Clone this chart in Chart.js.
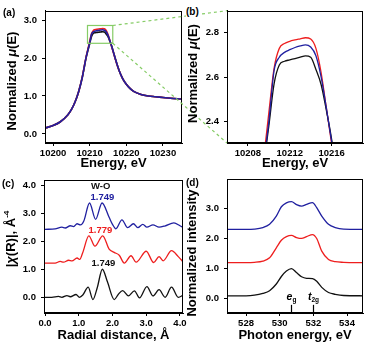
<!DOCTYPE html>
<html lang="en">
<head>
<meta charset="UTF-8">
<title>XANES / EXAFS / O K-edge</title>
<script src="https://cdn.jsdelivr.net/npm/chart.js"></script>
<style>
  body { margin: 0; background: #fff; }
  #wrap { position: relative; width: 367px; height: 347px; overflow: hidden; }
  #wrap canvas { position: absolute; left: 0; top: 0; }
  .lbl { position: absolute; font: bold 10px "Liberation Sans", Arial, sans-serif; color: #000; line-height: 12px; }
</style>
</head>
<body>
<div id="wrap">
  <canvas id="chartA" width="367" height="347"></canvas>
  <canvas id="chartC" width="367" height="347"></canvas>
  <canvas id="chartD" width="367" height="347"></canvas>
  <canvas id="chartB" width="367" height="347"></canvas>
  <div class="lbl" style="left:3px;top:7px">(a)</div>
  <div class="lbl" style="left:186px;top:6px;background:#fff">(b)</div>
  <div class="lbl" style="left:2px;top:178px">(c)</div>
  <div class="lbl" style="left:186px;top:177px">(d)</div>
</div>
<script>
// W L3-edge XANES, panels (a) and (b)
const energyXanes = [10198, 10200, 10202, 10204, 10205, 10206, 10207, 10208, 10208.5, 10209, 10209.5, 10210, 10210.5, 10211, 10211.5, 10212, 10212.5, 10213, 10213.5, 10214, 10214.5, 10215, 10215.5, 10216, 10216.5, 10217, 10218, 10219, 10220, 10221, 10222, 10224, 10226, 10228, 10230, 10232, 10235];
const muBlack = [0.16, 0.22, 0.32, 0.50, 0.64, 0.84, 1.12, 1.50, 1.75, 2.00, 2.20, 2.38, 2.57, 2.655, 2.672, 2.678, 2.684, 2.690, 2.696, 2.690, 2.635, 2.566, 2.45, 2.32, 2.15, 1.98, 1.68, 1.46, 1.31, 1.20, 1.12, 1.04, 1.00, 0.98, 0.96, 0.94, 0.92];
const muRed = [0.16, 0.22, 0.32, 0.50, 0.64, 0.84, 1.12, 1.51, 1.77, 2.02, 2.23, 2.44, 2.64, 2.73, 2.752, 2.762, 2.768, 2.773, 2.778, 2.772, 2.73, 2.62, 2.46, 2.30, 2.14, 1.97, 1.68, 1.46, 1.31, 1.20, 1.12, 1.04, 1.00, 0.98, 0.96, 0.94, 0.92];
const muBlue = [0.16, 0.22, 0.32, 0.50, 0.64, 0.84, 1.12, 1.50, 1.76, 2.01, 2.21, 2.40, 2.63, 2.69, 2.712, 2.724, 2.734, 2.741, 2.746, 2.736, 2.697, 2.60, 2.46, 2.31, 2.15, 1.98, 1.68, 1.46, 1.31, 1.20, 1.12, 1.04, 1.00, 0.98, 0.96, 0.94, 0.92];
const zoomBoxE = [10209.4, 10216.3];
const zoomBoxMu = [2.39, 2.86];

// FT-EXAFS, panel (c)
const rBlack = [0.0, 0.2, 0.4, 0.5, 0.65, 0.75, 0.92, 1.02, 1.12, 1.28, 1.42, 1.55, 1.70, 1.85, 2.05, 2.17, 2.30, 2.47, 2.65, 2.80, 3.02, 3.20, 3.38, 3.56, 3.75, 3.95, 4.1];
const chiBlack = [0.0, 0.0, 0.03, 0.0, 0.06, 0.02, 0.10, 0.0, 0.08, 0.36, -0.08, 0.35, 1.0, 0.55, -0.08, 0.10, 0.24, 0.05, 0.23, -0.02, 0.38, 0.05, 0.27, 0.0, 0.36, 0.0, 0.08];
const rRed = [0.0, 0.3, 0.45, 0.55, 0.7, 0.8, 0.95, 1.03, 1.12, 1.30, 1.48, 1.71, 1.90, 2.05, 2.20, 2.35, 2.55, 2.70, 3.00, 3.22, 3.38, 3.50, 3.75, 3.95, 4.1];
const chiRed = [1.22, 1.22, 1.28, 1.25, 1.32, 1.30, 1.40, 1.35, 1.60, 2.19, 1.82, 2.19, 1.72, 1.60, 1.50, 1.22, 1.48, 1.25, 1.64, 1.24, 1.45, 1.30, 1.66, 1.45, 1.25];
const rBlue = [0.0, 0.3, 0.5, 0.6, 0.75, 0.85, 0.95, 1.05, 1.15, 1.32, 1.50, 1.69, 1.90, 2.00, 2.10, 2.28, 2.45, 2.62, 2.75, 2.90, 3.02, 3.20, 3.38, 3.55, 3.82, 4.0, 4.1];
const chiBlue = [2.42, 2.44, 2.50, 2.47, 2.55, 2.52, 2.62, 2.58, 2.72, 3.36, 2.78, 3.36, 2.85, 2.60, 2.44, 2.76, 2.48, 2.62, 2.48, 2.60, 2.50, 2.58, 2.50, 2.54, 2.65, 2.55, 2.48];

// O K-edge, panel (d)
const photonEnergy = [526.9, 528, 528.5, 529, 529.4, 529.8, 530.1, 530.4, 530.7, 531.0, 531.3, 531.6, 531.95, 532.2, 532.5, 532.9, 533.3, 533.8, 535];
const intBlack = [0.10, 0.10, 0.12, 0.18, 0.27, 0.49, 0.74, 0.92, 1.00, 0.87, 0.73, 0.68, 0.67, 0.58, 0.38, 0.21, 0.15, 0.11, 0.10];
const intRed = [1.20, 1.20, 1.21, 1.25, 1.36, 1.69, 1.94, 2.06, 2.10, 2.03, 2.00, 2.06, 2.13, 2.00, 1.58, 1.30, 1.23, 1.21, 1.20];
const intBlue = [2.30, 2.30, 2.31, 2.36, 2.47, 2.74, 3.05, 3.18, 3.22, 3.12, 3.07, 3.13, 3.19, 3.02, 2.74, 2.47, 2.36, 2.31, 2.30];
const markEnergy = [530.7, 531.95];

const FONT = "'Liberation Sans', Arial, sans-serif";
const BLACK = '#111111', RED = '#ee1e1e', BLUE = '#2020a0', GREEN = '#86cc66';

function series(xs, ys, color, w) {
  return {
    data: xs.map((x, i) => ({ x: x, y: ys[i] })),
    borderColor: color, borderWidth: w, pointRadius: 0, fill: false,
    cubicInterpolationMode: 'monotone'
  };
}

function axis(min, max, step, fmt, size, title, titlePad) {
  const a = {
    type: 'linear', min: min, max: max,
    ticks: { stepSize: step, includeBounds: false, autoSkip: false, maxRotation: 0, color: '#000',
             font: { family: FONT, size: 9.5, weight: 'bold' }, callback: fmt },
    grid: { drawOnChartArea: false, drawTicks: true, tickLength: 3, color: '#000' },
    border: { display: true, color: '#000', width: 1 }
  };
  if (title) {
    a.ticks.padding = 2;
    a.title = { display: true, text: title, color: '#000', font: { family: FONT, size: 13, weight: 'bold' },
                padding: { top: 0, bottom: titlePad } };
    a.afterFit = s => { s.height = size; };
  } else {
    a.ticks.padding = 5;
    a.afterFit = s => { s.width = size; };
  }
  return a;
}

function opts(pad, x, y) {
  return {
    responsive: false, animation: false, events: [],
    layout: { padding: pad },
    plugins: { legend: { display: false }, tooltip: { enabled: false } },
    scales: { x: x, y: y }
  };
}

// draws text made of pieces (italic / sub / sup), centred on x,y
function richText(ctx, segs, x, y, rot, size, color) {
  ctx.save();
  ctx.translate(x, y);
  ctx.rotate(rot);
  ctx.textBaseline = 'middle';
  ctx.fillStyle = color || '#000';
  const fontOf = s => (s.it ? 'italic ' : '') + 'bold ' + ((s.sub || s.sup) ? size * 0.62 : size) + 'px ' + FONT;
  let w = 0;
  segs.forEach(s => { ctx.font = fontOf(s); w += ctx.measureText(s.t).width; });
  let cx = -w / 2;
  segs.forEach(s => {
    ctx.font = fontOf(s);
    const dy = s.sup ? -size * 0.35 : (s.sub ? size * 0.3 : 0);
    ctx.fillText(s.t, cx, dy);
    cx += ctx.measureText(s.t).width;
  });
  ctx.restore();
}

const frame = {
  id: 'frame',
  afterDatasetsDraw(c) {
    const a = c.chartArea, ctx = c.ctx;
    ctx.save();
    ctx.strokeStyle = '#000';
    ctx.lineWidth = 1;
    ctx.strokeRect(Math.round(a.left) + 0.5, Math.round(a.top) + 0.5, Math.round(a.right - a.left) - 1, Math.round(a.bottom - a.top) - 1);
    ctx.restore();
  }
};

function yTitle(segs, x, yc) {
  return {
    id: 'ytitle',
    afterDraw(c) {
      richText(c.ctx, segs, x, yc, -Math.PI / 2, 13);
    }
  };
}

// (b) zoom of the white line
const chartB = new Chart(document.getElementById('chartB'), {
  type: 'line',
  data: { datasets: [series(energyXanes, muBlue, BLUE, 1.3), series(energyXanes, muBlack, BLACK, 1.3), series(energyXanes, muRed, RED, 1.3)] },
  options: opts({ left: 180, top: 7, right: 4, bottom: 170 },
    axis(10206, 10219, 4, v => String(v), 34, 'Energy, eV', 5.9),
    axis(2.303, 2.90, 0.2, v => v.toFixed(1), 47)),
  plugins: [frame, yTitle([{ t: 'Normalized ' }, { t: 'μ', it: true }, { t: '(E)' }], 193, 73.5)]
});

const zoomBox = {
  id: 'zoombox',
  afterDraw(c) {
    const x = c.scales.x, y = c.scales.y, ctx = c.ctx;
    const x0 = x.getPixelForValue(zoomBoxE[0]), x1 = x.getPixelForValue(zoomBoxE[1]);
    const y0 = y.getPixelForValue(zoomBoxMu[1]), y1 = y.getPixelForValue(zoomBoxMu[0]);
    const b = chartB.chartArea;
    ctx.save();
    ctx.strokeStyle = GREEN;
    ctx.lineWidth = 1.2;
    ctx.strokeRect(x0, y0, x1 - x0, y1 - y0);
    ctx.setLineDash([3, 3]);
    ctx.beginPath();
    ctx.moveTo(x1, y0); ctx.lineTo(b.left, b.top);
    ctx.moveTo(x1, y1); ctx.lineTo(b.left, b.bottom);
    ctx.stroke();
    ctx.restore();
  }
};

// (a) full XANES
new Chart(document.getElementById('chartA'), {
  type: 'line',
  data: { datasets: [series(energyXanes, muBlue, BLUE, 1.6), series(energyXanes, muRed, RED, 1.6), series(energyXanes, muBlack, BLACK, 1.6)] },
  options: opts({ left: 0, top: 7, right: 185, bottom: 170 },
    axis(10197.8, 10235.2, 10, v => String(v), 34, 'Energy, eV', 5.9),
    axis(-0.24, 3.25, 1, v => v.toFixed(1), 45)),
  plugins: [frame, yTitle([{ t: 'Normalized ' }, { t: 'μ', it: true }, { t: '(E)' }], 12.5, 81), zoomBox]
});

// (c) FT-EXAFS
const peakNotes = {
  id: 'notes',
  afterDraw(c) {
    const x = c.scales.x, y = c.scales.y;
    const notes = [['W-O', 1.65, 3.94, BLACK], ['1.749', 1.70, 3.57, BLUE], ['1.779', 1.64, 2.38, RED], ['1.749', 1.73, 1.20, BLACK]];
    notes.forEach(n => richText(c.ctx, [{ t: n[0] }], x.getPixelForValue(n[1]), y.getPixelForValue(n[2]), 0, 9.5, n[3]));
  }
};
new Chart(document.getElementById('chartC'), {
  type: 'line',
  data: { datasets: [series(rBlue, chiBlue, BLUE, 1.3), series(rRed, chiRed, RED, 1.3), series(rBlack, chiBlack, BLACK, 1.3)] },
  options: opts({ left: 0, top: 180, right: 184, bottom: 0 },
    axis(-0.03, 4.09, 1, v => v.toFixed(1), 34, 'Radial distance, Å', 3.7),
    axis(-0.56, 4.18, 1, v => v.toFixed(1), 44)),
  plugins: [frame, yTitle([{ t: '|' }, { t: 'χ', it: true }, { t: '(R)|, Å' }, { t: '-4', sup: true }], 11, 239), peakNotes]
});

// (d) O K-edge
const edgeMarks = {
  id: 'marks',
  afterDraw(c) {
    const x = c.scales.x, y = c.scales.y, ctx = c.ctx;
    const yb = c.chartArea.bottom, yt = y.getPixelForValue(-0.2);
    const labels = [[{ t: 'e', it: true }, { t: 'g', sub: true }], [{ t: 't', it: true }, { t: '2g', sub: true }]];
    ctx.save();
    ctx.strokeStyle = '#000';
    ctx.lineWidth = 1.2;
    markEnergy.forEach((e, i) => {
      const px = Math.round(x.getPixelForValue(e)) + 0.5;
      ctx.beginPath(); ctx.moveTo(px, yb); ctx.lineTo(px, yt); ctx.stroke();
      richText(ctx, labels[i], px, yt - 8, 0, 10.5);
    });
    ctx.restore();
  }
};
new Chart(document.getElementById('chartD'), {
  type: 'line',
  data: { datasets: [series(photonEnergy, intBlue, BLUE, 1.3), series(photonEnergy, intRed, RED, 1.3), series(photonEnergy, intBlack, BLACK, 1.3)] },
  options: opts({ left: 180, top: 179, right: 4, bottom: 0 },
    axis(526.87, 534.95, 2, v => String(v), 34, 'Photon energy, eV', 3.7),
    axis(-0.47, 3.97, 1, v => v.toFixed(1), 47)),
  plugins: [frame, yTitle([{ t: 'Normalized intensity' }], 192, 253), edgeMarks]
});
</script>
</body>
</html>
